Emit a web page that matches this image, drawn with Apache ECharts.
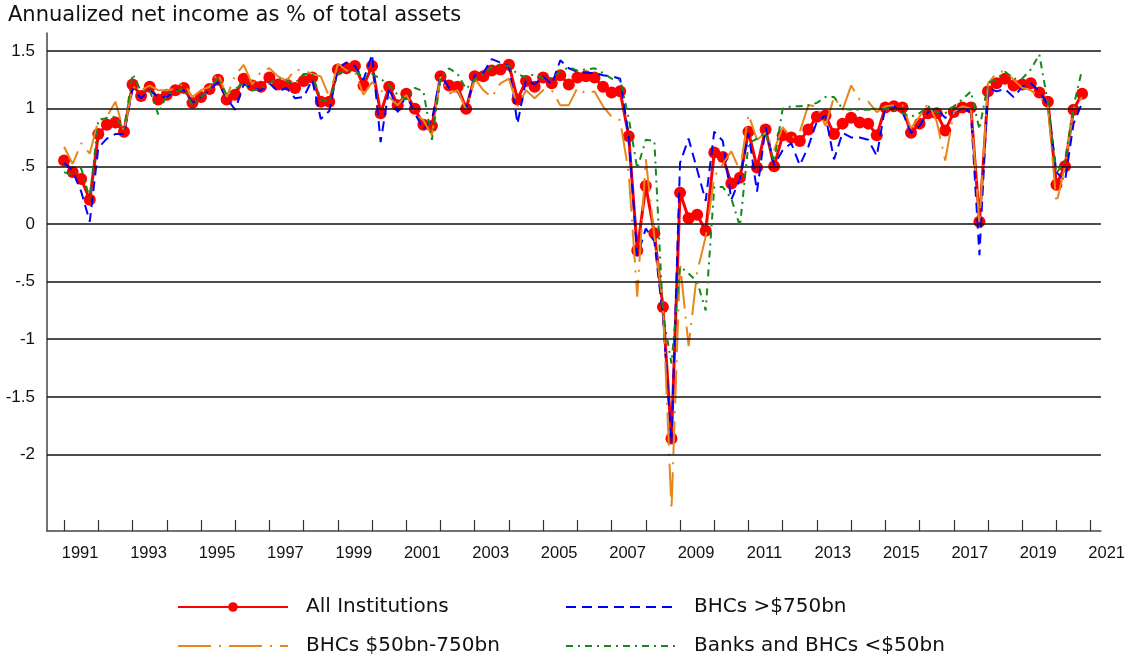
<!DOCTYPE html>
<html>
<head>
<meta charset="utf-8">
<script src="https://cdn.jsdelivr.net/npm/echarts@6.0.0/dist/echarts.min.js"></script>
<style>
html,body{margin:0;padding:0;background:#fff;}
#chart{width:1128px;height:658px;}
</style>
</head>
<body>
<div id="chart"></div>
<script>
// Quarterly data, 1991Q1 .. 2020Q4
var startYear = 1991;
var seriesNames = ['All Institutions', 'BHCs >$750bn', 'BHCs $50bn-750bn', 'Banks and BHCs <$50bn'];

var allInstitutions = [
  0.55,0.45,0.39,0.21, 0.78,0.86,0.88,0.80, 1.21,1.11,1.19,1.08, 1.12,1.16,1.18,1.05,
  1.10,1.17,1.25,1.08, 1.12,1.26,1.20,1.19, 1.27,1.21,1.21,1.18, 1.24,1.27,1.06,1.06,
  1.34,1.35,1.37,1.20, 1.37,0.96,1.19,1.03, 1.13,1.00,0.86,0.85, 1.28,1.20,1.19,1.00,
  1.28,1.28,1.33,1.34, 1.38,1.08,1.24,1.19, 1.27,1.22,1.29,1.21, 1.27,1.28,1.27,1.19,
  1.14,1.15,0.76,-0.23, 0.33,-0.08,-0.72,-1.86, 0.27,0.05,0.08,-0.06, 0.62,0.58,0.35,0.40,
  0.80,0.49,0.82,0.50, 0.77,0.75,0.72,0.82, 0.93,0.94,0.78,0.87, 0.92,0.88,0.87,0.77,
  1.01,1.02,1.01,0.79, 0.87,0.96,0.96,0.81, 0.97,1.01,1.01,0.02, 1.15,1.22,1.26,1.20,
  1.21,1.22,1.14,1.06, 0.34,0.50,0.99,1.13
];

var bhcsOver750 = [
  0.53,0.46,0.28,0.02, 0.66,0.74,0.78,0.78, 1.17,1.09,1.16,1.10, 1.10,1.16,1.16,1.05,
  1.10,1.16,1.23,1.09, 0.99,1.21,1.18,1.16, 1.22,1.15,1.18,1.09, 1.10,1.25,0.91,0.98,
  1.35,1.40,1.37,1.25, 1.47,0.71,1.18,0.97, 1.12,0.96,0.82,0.90, 1.29,1.18,1.15,1.00,
  1.29,1.31,1.43,1.40, 1.37,0.87,1.25,1.21, 1.28,1.21,1.42,1.35, 1.32,1.31,1.31,1.29,
  1.28,1.26,0.76,-0.28, -0.04,-0.15,-0.80,-1.90, 0.53,0.74,0.47,0.20, 0.80,0.72,0.21,0.39,
  0.79,0.28,0.84,0.51, 0.64,0.70,0.51,0.67, 0.89,0.94,0.56,0.79, 0.75,0.75,0.73,0.59,
  1.02,1.02,0.97,0.79, 0.85,0.97,1.00,0.92, 0.97,1.00,0.97,-0.27, 1.18,1.15,1.17,1.10,
  1.19,1.22,1.15,1.03, 0.45,0.37,0.87,1.05
];

var bhcs50to750 = [
  0.67,0.52,0.70,0.61, 0.90,0.93,1.06,0.80, 1.19,1.16,1.20,1.16, 1.16,1.17,1.22,1.10,
  1.16,1.19,1.31,1.10, 1.29,1.38,1.21,1.32, 1.35,1.28,1.24,1.34, 1.33,1.30,1.28,1.10,
  1.39,1.33,1.32,1.12, 1.23,1.16,1.10,1.03, 1.12,0.96,0.90,0.77, 1.28,1.13,1.16,0.99,
  1.26,1.16,1.10,1.22, 1.26,1.02,1.16,1.09, 1.16,1.16,1.03,1.03, 1.18,1.13,1.15,1.02,
  0.93,0.90,0.44,-0.63, 0.56,-0.11,-0.70,-2.48, -0.34,-1.06,-0.42,-0.11, 0.41,0.52,0.63,0.46,
  0.95,0.73,0.79,0.64, 0.84,0.74,0.80,1.03, 1.02,0.85,1.10,0.99, 1.20,1.08,1.06,0.97,
  1.02,1.03,1.03,0.83, 0.93,1.05,0.89,0.55, 0.97,1.02,1.00,0.00, 1.22,1.31,1.33,1.25,
  1.18,1.16,1.10,1.03, 0.18,0.50,1.00,1.10
];

var banksUnder50 = [
  0.45,0.42,0.48,0.22, 0.90,0.92,0.93,0.82, 1.30,1.15,1.16,0.95, 1.12,1.15,1.17,1.03,
  1.10,1.16,1.27,1.12, 1.17,1.22,1.16,1.17, 1.22,1.26,1.24,1.22, 1.30,1.30,1.08,1.06,
  1.30,1.33,1.33,1.27, 1.30,1.26,1.20,1.12, 1.08,1.18,1.15,0.73, 1.26,1.35,1.30,1.17,
  1.25,1.30,1.36,1.38, 1.37,1.30,1.27,1.30, 1.26,1.27,1.32,1.36, 1.33,1.34,1.35,1.31,
  1.26,1.25,0.92,0.48, 0.73,0.72,-0.78,-1.21, -0.37,-0.43,-0.50,-0.75, 0.32,0.32,0.22,-0.02,
  0.70,0.74,0.79,0.54, 1.00,1.02,1.02,1.03, 1.05,1.10,1.10,1.00, 0.99,0.99,0.99,1.00,
  1.00,0.99,0.96,0.93, 0.96,1.02,0.97,0.96, 1.02,1.08,1.15,0.82, 1.22,1.26,1.32,1.26,
  1.26,1.34,1.47,1.05, 0.44,0.55,1.02,1.34
];

var yTickValues = [-2, -1.5, -1, -0.5, 0, 0.5, 1, 1.5];
var xTickYears = [];
for (var y = 1991; y <= 2021; y++) xTickYears.push(y);
var xLabelYears = [1991,1993,1995,1997,1999,2001,2003,2005,2007,2009,2011,2013,2015,2017,2019,2021];

function toPairs(arr) {
  return arr.map(function (v, i) { return [startYear + i / 4, v]; });
}

var chart = echarts.init(document.getElementById('chart'), null, {renderer: 'canvas'});

var labelFont = '"Liberation Sans", Arial, sans-serif';
var textFont = '"DejaVu Sans", sans-serif';

function legendFor(name, left, top, hideSymbol) {
  var item = {name: name};
  if (hideSymbol) item.itemStyle = {opacity: 0};
  return {
    data: [item],
    orient: 'horizontal', left: left, top: top, padding: 0,
    itemWidth: 110, itemHeight: 12,
    textStyle: {fontFamily: textFont, fontSize: 20, color: '#111', padding: [0, 0, 0, 13]}
  };
}

var option = {
  animation: false,
  backgroundColor: '#ffffff',
  title: {
    text: 'Annualized net income as % of total assets',
    left: 8, top: 5, padding: 0,
    textStyle: {fontFamily: textFont, fontSize: 21, fontWeight: 'normal', color: '#111'}
  },
  grid: {left: 47, right: 27, top: 33, bottom: 127, containLabel: false},
  legend: [
    legendFor(seriesNames[0], 177, 597, false),
    legendFor(seriesNames[2], 177, 636, true),
    legendFor(seriesNames[1], 565, 597, true),
    legendFor(seriesNames[3], 565, 636, true)
  ],
  xAxis: {
    type: 'value',
    min: 1990.5, max: 2021.3,
    axisLine: {show: true, onZero: false, lineStyle: {color: '#444', width: 1.5}},
    axisTick: {show: true, inside: true, length: 11, customValues: xTickYears,
      lineStyle: {color: '#333', width: 1.2}},
    axisLabel: {
      customValues: xLabelYears,
      formatter: function (v) { return String(Math.round(v)); },
      fontFamily: labelFont, fontSize: 16.5, color: '#111', margin: 14,
      padding: [0, 0, 0, 32]
    },
    splitLine: {show: false}
  },
  yAxis: {
    type: 'value',
    min: -2.663, max: 1.656,
    axisLine: {show: true, onZero: false, lineStyle: {color: '#444', width: 1.5}},
    axisTick: {show: false},
    axisLabel: {
      customValues: yTickValues,
      formatter: function (v) {
        var s = String(Math.round(v * 10) / 10);
        return s.replace(/^0\./, '.').replace(/^-0\./, '-.');
      },
      fontFamily: labelFont, fontSize: 17, color: '#111', margin: 12
    },
    splitLine: {show: false}
  },
  series: [
    {
      name: '_grid', type: 'line', data: toPairs(allInstitutions), z: 0,
      symbol: 'none', silent: true, lineStyle: {opacity: 0},
      markLine: {
        silent: true, symbol: ['none', 'none'], label: {show: false},
        lineStyle: {color: '#111', width: 1.5, type: 'solid'},
        data: yTickValues.map(function (v) { return {yAxis: v}; })
      }
    },
    {
      name: seriesNames[0], type: 'line', data: toPairs(allInstitutions), z: 2,
      symbol: 'circle', symbolSize: 12, showAllSymbol: true,
      lineStyle: {color: '#ff0000', width: 3},
      itemStyle: {color: '#ff0000'}
    },
    {
      name: seriesNames[1], type: 'line', data: toPairs(bhcsOver750), z: 3,
      symbol: 'none',
      lineStyle: {color: '#0000ff', width: 2, type: [10, 6]},
      itemStyle: {color: '#0000ff'}
    },
    {
      name: seriesNames[2], type: 'line', data: toPairs(bhcs50to750), z: 4,
      symbol: 'none',
      lineStyle: {color: '#e8861a', width: 2, type: [33, 8, 2, 8]},
      itemStyle: {color: '#e8861a'}
    },
    {
      name: seriesNames[3], type: 'line', data: toPairs(banksUnder50), z: 5,
      symbol: 'none',
      lineStyle: {color: '#17891a', width: 2, type: [7, 5, 2, 5]},
      itemStyle: {color: '#17891a'}
    }
  ]
};
chart.setOption(option);
</script>
</body>
</html>
